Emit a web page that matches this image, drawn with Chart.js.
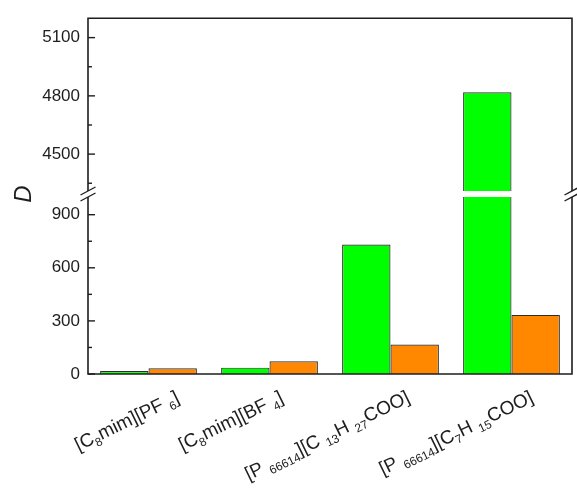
<!DOCTYPE html>
<html>
<head>
<meta charset="utf-8">
<script src="https://cdn.jsdelivr.net/npm/chart.js@4/dist/chart.umd.min.js"></script>
<style>
  html, body { margin: 0; padding: 0; background: #fff; }
  #wrap { position: relative; width: 577px; height: 488px; }
  #wrap canvas { position: absolute; left: 0; top: 0; }
</style>
</head>
<body>
<div id="wrap">
  <canvas id="upper" width="577" height="488"></canvas>
  <canvas id="lower" width="577" height="488"></canvas>
</div>
<script>
// Ionic liquids; "_{..}" marks a subscript run
const categories = [
  '[C_{8}mim][PF _{6}]',
  '[C_{8}mim][BF _{4}]',
  '[P _{66614}][C _{13}H _{27}COO]',
  '[P _{66614}][C_{7}H _{15}COO]'
];
const seriesGreen  = [17, 36, 732, 4818];
const seriesOrange = [32, 72, 166, 334];

// broken value axis: lower and upper segments
const lowerRange = [0, 1000];
const upperRange = [4310, 5200];
const lowerTickLabels = [0, 300, 600, 900];
const upperTickLabels = [4500, 4800, 5100];
const minorStep = 150;

// ---- styling ----
const FONT = '"Liberation Sans", Arial, Helvetica, sans-serif';
const INK = '#1e1e1e';
const GREEN = '#00ff00';
const ORANGE = '#ff8800';
const EDGE = '#2e2e2e';
const LABEL_SIZE = 19, SUB_SIZE = 12, SUB_SHIFT = 4.5;
const LABEL_ANGLE = 26 * Math.PI / 180;
const labelNudge = [32, 15, 20.5, 23];   // horizontal shift of each rotated label end
const LABEL_END_Y = 401.5;

function buildTicks(range) {
  const out = [];
  for (let v = Math.ceil(range[0] / minorStep) * minorStep; v <= range[1]; v += minorStep) out.push({ value: v });
  return out;
}

function drawRich(ctx, markup, ex, ey) {
  const parts = [];
  const re = /_\{([^}]*)\}/g;
  let last = 0, m;
  while ((m = re.exec(markup))) {
    if (m.index > last) parts.push({ t: markup.slice(last, m.index), sub: false });
    parts.push({ t: m[1], sub: true });
    last = re.lastIndex;
  }
  if (last < markup.length) parts.push({ t: markup.slice(last), sub: false });
  let total = 0;
  parts.forEach(p => {
    ctx.font = (p.sub ? SUB_SIZE : LABEL_SIZE) + 'px ' + FONT;
    p.w = ctx.measureText(p.t).width;
    total += p.w;
  });
  ctx.save();
  ctx.translate(ex, ey);
  ctx.rotate(-LABEL_ANGLE);
  ctx.fillStyle = INK;
  ctx.textAlign = 'left';
  ctx.textBaseline = 'alphabetic';
  let x = -total;
  parts.forEach(p => {
    ctx.font = (p.sub ? SUB_SIZE : LABEL_SIZE) + 'px ' + FONT;
    ctx.fillText(p.t, x, p.sub ? SUB_SHIFT : 0);
    x += p.w;
  });
  ctx.restore();
}

function framePlugin(part, majors) {
  return {
    id: 'frame_' + part,
    afterDatasetsDraw(chart) {
      const { ctx, chartArea: a, scales: { x, y } } = chart;
      ctx.save();
      ctx.strokeStyle = INK;
      ctx.lineWidth = 1.6;
      ctx.beginPath();
      if (part === 'upper') {
        ctx.moveTo(a.left, a.bottom); ctx.lineTo(a.left, a.top);
        ctx.lineTo(a.right, a.top); ctx.lineTo(a.right, a.bottom);
      } else {
        ctx.moveTo(a.left, a.top); ctx.lineTo(a.left, a.bottom);
        ctx.lineTo(a.right, a.bottom); ctx.lineTo(a.right, a.top);
      }
      ctx.stroke();

      // inward ticks on the value axis
      ctx.lineWidth = 1.4;
      y.ticks.forEach(t => {
        const py = y.getPixelForValue(t.value);
        const len = majors.includes(t.value) ? 7 : 4;
        ctx.beginPath();
        ctx.moveTo(a.left, py); ctx.lineTo(a.left + len, py);
        ctx.stroke();
      });

      // break marks
      const by = part === 'upper' ? a.bottom : a.top;
      [a.left, a.right].forEach(px => {
        ctx.beginPath();
        ctx.moveTo(px - 7.5, by + 4); ctx.lineTo(px + 7.5, by - 4);
        ctx.stroke();
      });

      if (part === 'lower') {
        // category labels
        categories.forEach((c, i) => {
          drawRich(ctx, c, x.getPixelForValue(i) + labelNudge[i], LABEL_END_Y);
        });
        // axis title
        ctx.save();
        ctx.translate(24, 194);
        ctx.rotate(-Math.PI / 2);
        ctx.font = 'italic 24px ' + FONT;
        ctx.fillStyle = INK;
        ctx.textAlign = 'center';
        ctx.textBaseline = 'middle';
        ctx.fillText('D', 0, 0);
        ctx.restore();
      }
      ctx.restore();
    }
  };
}

function makeChart(id, part, range, majors, padTop, padBottom) {
  return new Chart(document.getElementById(id), {
    type: 'bar',
    data: {
      labels: categories,
      datasets: [
        { data: seriesGreen, backgroundColor: GREEN, borderColor: EDGE, borderWidth: 1.2,
          categoryPercentage: 0.8, barPercentage: 1.0, clip: 0 },
        { data: seriesOrange, backgroundColor: ORANGE, borderColor: EDGE, borderWidth: 1.2,
          categoryPercentage: 0.8, barPercentage: 1.0, clip: 0 }
      ]
    },
    options: {
      responsive: false,
      animation: false,
      devicePixelRatio: 1,
      layout: { padding: { left: 0, right: 5, top: padTop, bottom: padBottom } },
      plugins: { legend: { display: false }, tooltip: { enabled: false } },
      scales: {
        x: { display: false, offset: true },
        y: {
          min: range[0], max: range[1],
          afterBuildTicks: s => { s.ticks = buildTicks(range); },
          afterFit: s => { s.width = 88; },
          grid: { display: false, drawTicks: false },
          border: { display: false },
          ticks: {
            padding: 8,
            color: INK,
            font: { family: FONT, size: 17 },
            callback: v => majors.includes(v) ? String(v) : ''
          }
        }
      }
    },
    plugins: [framePlugin(part, majors)]
  });
}

makeChart('upper', 'upper', upperRange, upperTickLabels, 15, 488 - 191);
makeChart('lower', 'lower', lowerRange, lowerTickLabels, 197, 488 - 374);
</script>
</body>
</html>
